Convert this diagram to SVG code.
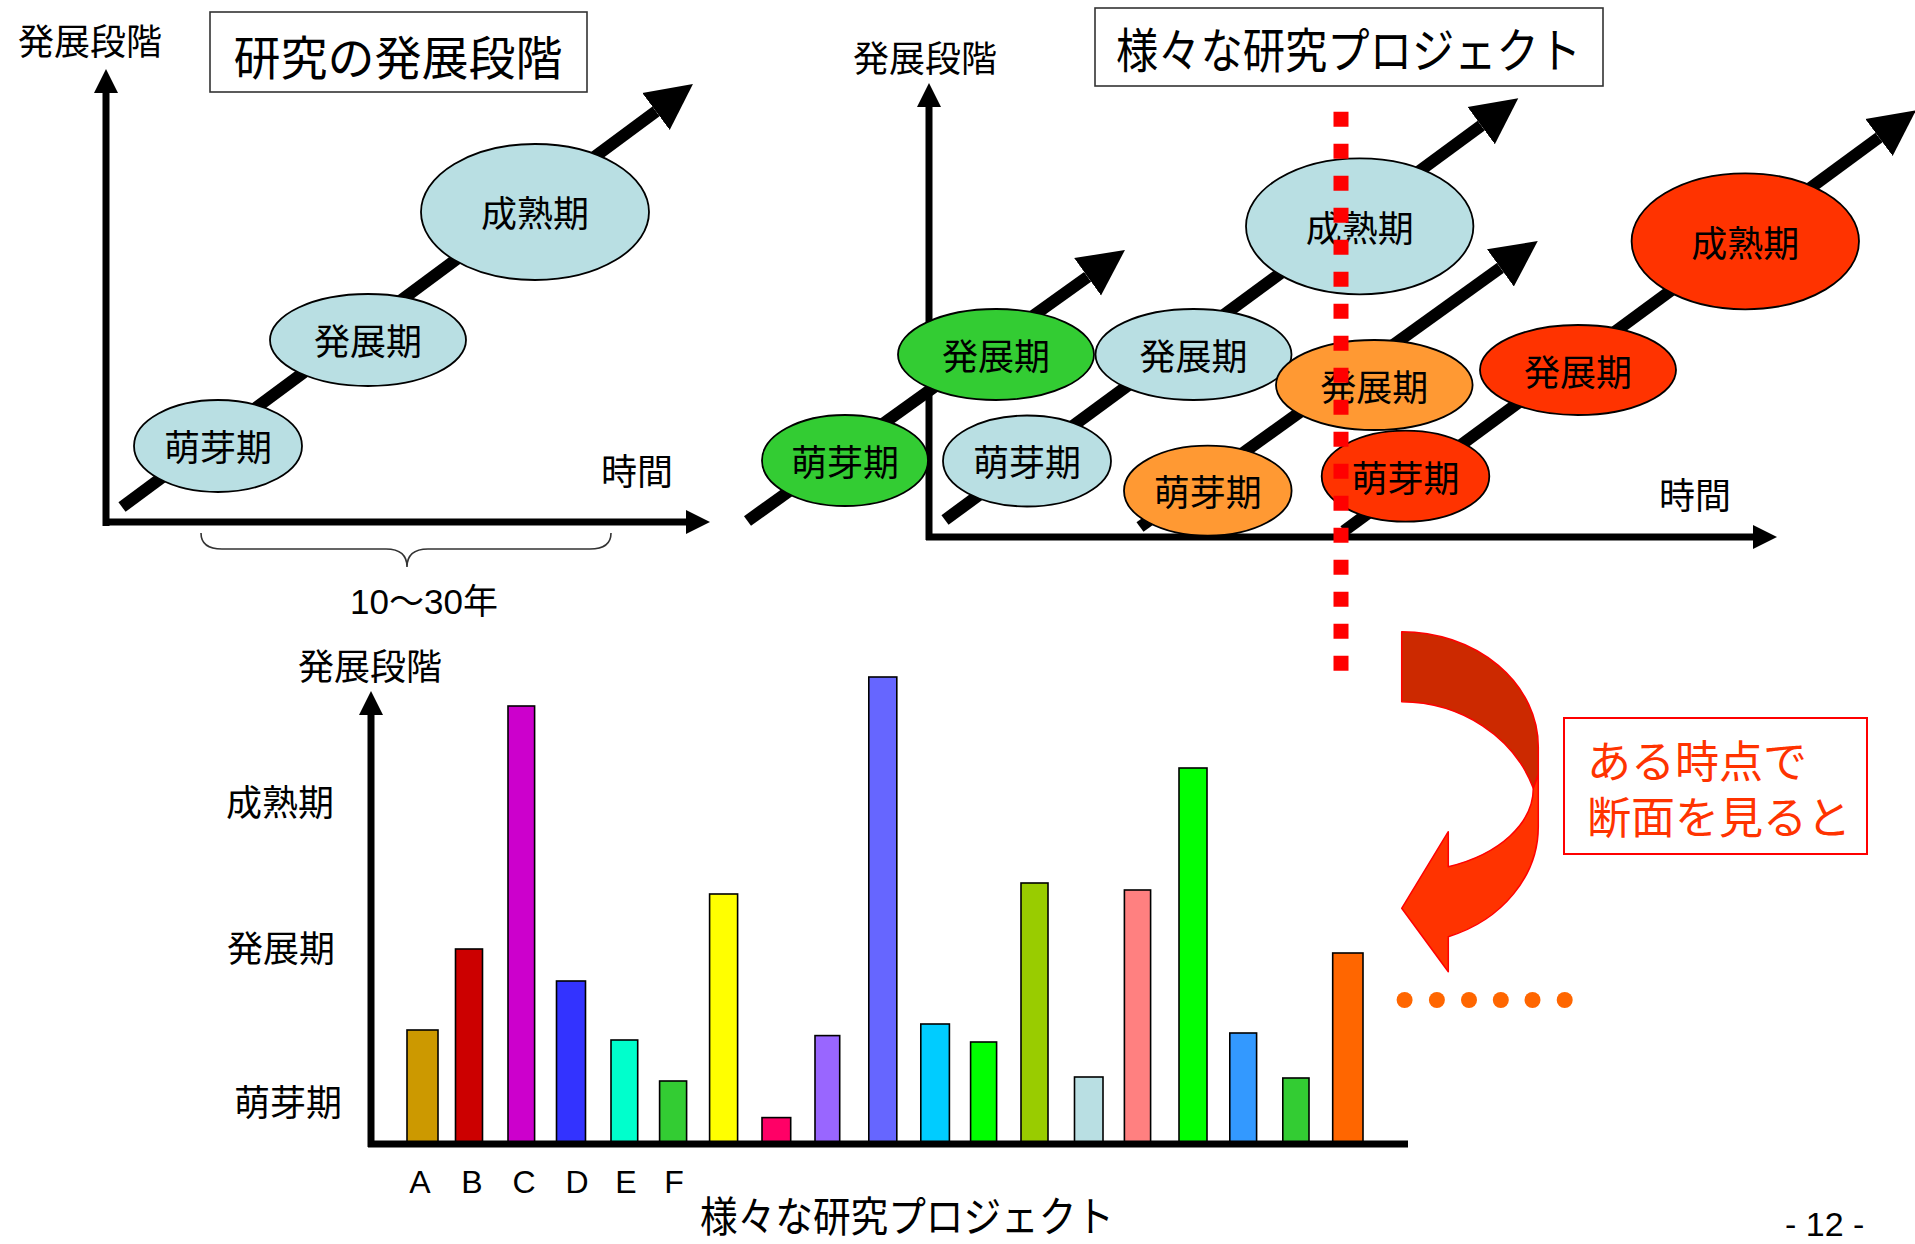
<svg xmlns="http://www.w3.org/2000/svg" width="1915" height="1244" viewBox="0 0 1915 1244">
<defs>
<style>
.jp{font-family:"Noto Sans CJK JP","Noto Sans",sans-serif;fill:#000}
.lat{font-family:"Liberation Sans","Noto Sans CJK JP",sans-serif;fill:#000}
.axis{stroke:#000;stroke-width:7;fill:none}
.diag{stroke:#000;stroke-width:12;fill:none}
.node{stroke:#000;stroke-width:1.8}
.lb{fill:#b9dfe3}
.gr{fill:#33cc33}
.or{fill:#ff9933}
.rd{fill:#ff3300}
.lbl{font-size:36px;text-anchor:middle}
.bar{stroke:#000;stroke-width:1.6}
.box{fill:#fff;stroke:#333;stroke-width:1.6}
</style>
<marker id="ah" markerUnits="userSpaceOnUse" viewBox="0 -24 48 48" markerWidth="48" markerHeight="48" refX="0" refY="0" orient="auto"><path d="M0,-23 L46,0 L0,23 Z" fill="#000"/></marker>
<marker id="ax" markerUnits="userSpaceOnUse" viewBox="0 -13 26 26" markerWidth="26" markerHeight="26" refX="0" refY="0" orient="auto"><path d="M0,-12 L24,0 L0,12 Z" fill="#000"/></marker>
</defs>
<rect width="1915" height="1244" fill="#fff"/>

<!-- Top-left panel -->
<g id="tl-axes">
<line class="axis" x1="106" y1="526" x2="106" y2="93" marker-end="url(#ax)"/>
<line class="axis" x1="103" y1="522" x2="686" y2="522" marker-end="url(#ax)"/>
</g>
<text class="jp" x="18" y="55" font-size="36">発展段階</text>
<g id="tl-title">
<rect class="box" x="210" y="12" width="377" height="80"/>
<text class="jp" x="398" y="75" font-size="47" text-anchor="middle">研究の発展段階</text>
</g>
<text class="jp" x="601" y="485" font-size="36">時間</text>
<path d="M201,533 Q201,549 222,549 L386,549 Q407,549 407,567 Q407,549 428,549 L590,549 Q611,549 611,533" fill="none" stroke="#333" stroke-width="1.6"/>
<text class="lat" x="424" y="614" font-size="35" text-anchor="middle">10～30年</text>

<!-- Top-right panel axes -->
<g id="tr-axes">
<line class="axis" x1="929" y1="540" x2="929" y2="107" marker-end="url(#ax)"/>
<line class="axis" x1="926" y1="537" x2="1753" y2="537" marker-end="url(#ax)"/>
</g>
<text class="jp" x="853" y="72" font-size="36">発展段階</text>
<g id="tr-title">
<rect class="box" x="1095" y="8" width="508" height="78"/>
<text class="jp" x="1116" y="68" font-size="48" textLength="465" lengthAdjust="spacingAndGlyphs">様々な研究プロジェクト</text>
</g>
<text class="jp" x="1659" y="509" font-size="36">時間</text>

<!-- Connectors -->
<g id="connectors">
<line class="diag" x1="122" y1="507" x2="656" y2="111.4" marker-end="url(#ah)"/>
<line class="diag" x1="747.5" y1="521" x2="1087.6" y2="276.8" marker-end="url(#ah)"/>
<line class="diag" x1="945" y1="520" x2="1481.2" y2="125.6" marker-end="url(#ah)"/>
<line class="diag" x1="1140" y1="527" x2="1500.4" y2="267.9" marker-end="url(#ah)"/>
<line class="diag" x1="1344" y1="531" x2="1879" y2="137.5" marker-end="url(#ah)"/>
</g>

<!-- Top-left nodes -->
<g id="tl-germ"><ellipse class="node lb" cx="218" cy="446" rx="84" ry="46"/><text class="jp lbl" x="218" y="461">萌芽期</text></g>
<g id="tl-dev"><ellipse class="node lb" cx="368" cy="340" rx="98" ry="46"/><text class="jp lbl" x="368" y="355">発展期</text></g>
<g id="tl-mat"><ellipse class="node lb" cx="535" cy="212" rx="114" ry="68"/><text class="jp lbl" x="535" y="227">成熟期</text></g>

<!-- Top-right nodes -->
<g id="g-germ"><ellipse class="node gr" cx="845" cy="460.5" rx="83" ry="45.5"/><text class="jp lbl" x="845" y="476">萌芽期</text></g>
<g id="g-dev"><ellipse class="node gr" cx="996" cy="354.5" rx="98" ry="45.5"/><text class="jp lbl" x="996" y="370">発展期</text></g>
<g id="b-germ"><ellipse class="node lb" cx="1027" cy="461" rx="84" ry="45.5"/><text class="jp lbl" x="1027" y="476">萌芽期</text></g>
<g id="b-dev"><ellipse class="node lb" cx="1193.5" cy="354.5" rx="98" ry="45.5"/><text class="jp lbl" x="1193.5" y="370">発展期</text></g>
<g id="b-mat"><ellipse class="node lb" cx="1359.7" cy="226.3" rx="113.7" ry="68"/><text class="jp lbl" x="1359.7" y="242">成熟期</text></g>
<g id="o-germ"><ellipse class="node or" cx="1207.8" cy="490.7" rx="83.8" ry="45"/><text class="jp lbl" x="1207.8" y="506">萌芽期</text></g>
<g id="o-dev"><ellipse class="node or" cx="1374.3" cy="385" rx="98.3" ry="45"/><text class="jp lbl" x="1374.3" y="401">発展期</text></g>
<g id="r-germ"><ellipse class="node rd" cx="1405.5" cy="476.2" rx="83.8" ry="45.5"/><text class="jp lbl" x="1405.5" y="492">萌芽期</text></g>
<g id="r-dev"><ellipse class="node rd" cx="1578" cy="370" rx="98" ry="45"/><text class="jp lbl" x="1578" y="386">発展期</text></g>
<g id="r-mat"><ellipse class="node rd" cx="1745.3" cy="241.3" rx="113.7" ry="68"/><text class="jp lbl" x="1745.3" y="257">成熟期</text></g>

<!-- Red dashed cut line -->
<line id="cut" x1="1341" y1="111.7" x2="1341" y2="671" stroke="#ff0000" stroke-width="15" stroke-dasharray="15 17"/>

<!-- Curved arrow -->
<g id="curved-arrow" stroke="#ff0000" stroke-width="1.5" stroke-linejoin="round">
<path d="M1401.7,631.7 A136.6,115 0 0 1 1538.3,746.7 L1538.3,775 L1533.3,788.3 A140,128.3 0 0 0 1401.7,701.7 Z" fill="#cc2900"/>
<path d="M1533.3,788.3 A131.6,83.8 0 0 1 1448.3,866.7 L1448.3,831.7 L1401.7,908.3 L1448.3,971.7 L1448.3,936.7 A136.6,117 0 0 0 1538.3,826.7 L1538.3,775 Z" fill="#ff3300"/>
</g>

<!-- Note box -->
<g id="note">
<rect x="1564" y="718" width="303" height="136" fill="#fff" stroke="#ff0000" stroke-width="2"/>
<text class="jp" font-size="44" style="fill:#ff3300"><tspan x="1587" y="778">ある時点で</tspan><tspan x="1587" y="834">断面を見ると</tspan></text>
</g>

<!-- Bar chart -->
<g id="bar-axes">
<line class="axis" x1="371" y1="1147" x2="371" y2="715" marker-end="url(#ax)"/>
</g>
<text class="jp" x="298" y="680" font-size="36">発展段階</text>
<text class="jp" x="226" y="816" font-size="36">成熟期</text>
<text class="jp" x="227" y="962" font-size="36">発展期</text>
<text class="jp" x="234" y="1116" font-size="36">萌芽期</text>
<g id="bars">
<rect class="bar" x="407" y="1030" width="31" height="112" fill="#cc9900"/>
<rect class="bar" x="455.5" y="949" width="27" height="193" fill="#cc0000"/>
<rect class="bar" x="508" y="706" width="26.6" height="436" fill="#cc00cc"/>
<rect class="bar" x="556.5" y="981" width="29" height="161" fill="#3333ff"/>
<rect class="bar" x="611" y="1040" width="26.7" height="102" fill="#00ffcc"/>
<rect class="bar" x="659.6" y="1081" width="27" height="61" fill="#33cc33"/>
<rect class="bar" x="709.6" y="894" width="28" height="248" fill="#ffff00"/>
<rect class="bar" x="762" y="1117.6" width="28.7" height="24.4" fill="#ff0066"/>
<rect class="bar" x="815" y="1035.6" width="24.7" height="106.4" fill="#9966ff"/>
<rect class="bar" x="868.8" y="677" width="28" height="465" fill="#6666ff"/>
<rect class="bar" x="920.8" y="1024" width="28.6" height="118" fill="#00ccff"/>
<rect class="bar" x="970.6" y="1042" width="26" height="100" fill="#00ff00"/>
<rect class="bar" x="1021" y="883" width="27" height="259" fill="#99cc00"/>
<rect class="bar" x="1074.5" y="1077" width="28.5" height="65" fill="#b9dfe3"/>
<rect class="bar" x="1124.4" y="890" width="26.2" height="252" fill="#ff8080"/>
<rect class="bar" x="1179" y="768" width="28" height="374" fill="#00ff00"/>
<rect class="bar" x="1229.8" y="1033" width="26.8" height="109" fill="#3399ff"/>
<rect class="bar" x="1282.8" y="1078" width="26.2" height="64" fill="#33cc33"/>
<rect class="bar" x="1332.7" y="953" width="30.3" height="189" fill="#ff6600"/>
</g>
<line class="axis" x1="368" y1="1144" x2="1408" y2="1144"/>
<g id="bar-labels" class="lat" font-size="32" text-anchor="middle">
<text x="420" y="1193">A</text>
<text x="472" y="1193">B</text>
<text x="524" y="1193">C</text>
<text x="577" y="1193">D</text>
<text x="626" y="1193">E</text>
<text x="674" y="1193">F</text>
</g>
<text class="jp" x="700" y="1232" font-size="42" textLength="414" lengthAdjust="spacingAndGlyphs">様々な研究プロジェクト</text>
<g id="dots" fill="#ff6600">
<circle cx="1404.6" cy="1000" r="8"/>
<circle cx="1436.9" cy="1000" r="8"/>
<circle cx="1469" cy="1000" r="8"/>
<circle cx="1500.8" cy="1000" r="8"/>
<circle cx="1532.5" cy="1000" r="8"/>
<circle cx="1564.7" cy="1000" r="8"/>
</g>
<text class="lat" x="1785" y="1236" font-size="34">- 12 -</text>
</svg>
